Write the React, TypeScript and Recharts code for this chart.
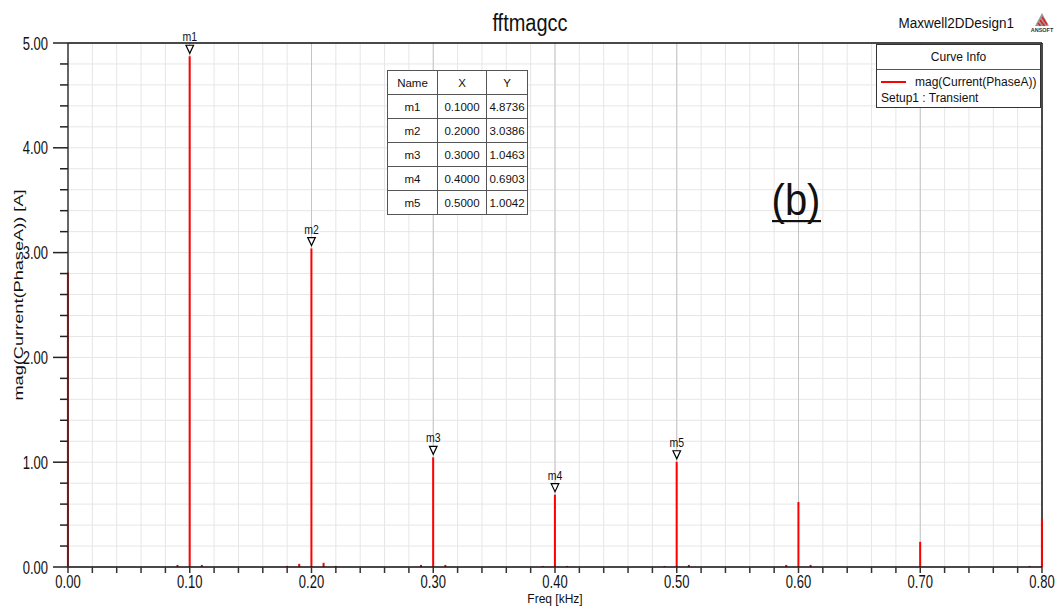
import { Bar, CartesianGrid, ComposedChart, Scatter, XAxis, YAxis } from "recharts";

// FFT bins, 0.01 kHz apart, magnitudes in A
const FREQ_STEP = 0.01;
const magnitudes = [
  2.81, 0, 0, 0, 0, 0, 0, 0, 0, 0.02,
  4.8736, 0.02, 0, 0, 0, 0, 0, 0, 0.01, 0.03,
  3.0386, 0.04, 0.01, 0, 0, 0, 0, 0, 0, 0.02,
  1.0463, 0.02, 0, 0, 0, 0, 0, 0, 0, 0.01,
  0.6903, 0.01, 0, 0, 0, 0, 0, 0, 0, 0.01,
  1.0042, 0.02, 0, 0, 0, 0, 0, 0, 0, 0.02,
  0.62, 0.02, 0, 0, 0, 0, 0, 0, 0, 0,
  0.24, 0, 0, 0, 0, 0, 0, 0, 0, 0.01,
  0.46,
];

const markerNames = ["m1", "m2", "m3", "m4", "m5"];
const markerX = [0.1, 0.2, 0.3, 0.4, 0.5];
const markerY = [4.8736, 3.0386, 1.0463, 0.6903, 1.0042];

const xTicks = Array.from({ length: 41 }, (_, i) => Math.round(i * 2) / 100);
const yTicks = Array.from({ length: 26 }, (_, i) => Math.round(i * 2) / 10);
const majorX = [0.1, 0.2, 0.3, 0.4, 0.5, 0.6, 0.7];

const data = magnitudes.map((v, i) => ({ f: Math.round(i * FREQ_STEP * 100) / 100, v }));
const markers = markerNames.map((name, i) => ({ name, f: markerX[i], v: markerY[i] }));

const FONT = "'Liberation Sans', Arial, sans-serif";
const RED = "#ff0000";

function XTick({ x, y, payload }: any) {
  const val = payload.value as number;
  const major = Math.abs(val * 10 - Math.round(val * 10)) < 1e-6;
  return (
    <g>
      <line x1={x} x2={x} y1={y} y2={y + 6} stroke="#333" strokeWidth={1.5} />
      {major && (
        <text
          transform={`translate(${x},${y + 21}) scale(1,1.35)`}
          textAnchor="middle"
          fontSize={13}
          fill="#111"
          fontFamily={FONT}
        >
          {val.toFixed(2)}
        </text>
      )}
    </g>
  );
}

function YTick({ x, y, payload }: any) {
  const val = payload.value as number;
  const major = Math.abs(val - Math.round(val)) < 1e-6;
  return (
    <g>
      <line x1={x - (major ? 15 : 8)} x2={x} y1={y} y2={y} stroke="#222" strokeWidth={1.5} />
      {major && (
        <text
          transform={`translate(${x - 20},${y + 6.5}) scale(1,1.35)`}
          textAnchor="end"
          fontSize={13}
          fill="#111"
          fontFamily={FONT}
        >
          {val.toFixed(2)}
        </text>
      )}
    </g>
  );
}

function MarkerShape({ cx, cy, payload }: any) {
  return (
    <g>
      <path
        d={`M${cx - 3.8},${cy - 11} L${cx + 3.8},${cy - 11} L${cx},${cy - 3} Z`}
        fill="#fff"
        stroke="#000"
        strokeWidth={1.2}
      />
      <text
        transform={`translate(${cx},${cy - 15}) scale(1,1.3)`}
        textAnchor="middle"
        fontSize={10.5}
        fill="#111"
        fontFamily={FONT}
      >
        {payload.name}
      </text>
    </g>
  );
}

const cell: React.CSSProperties = {
  border: "1px solid #555",
  padding: 0,
  height: 23,
  textAlign: "center",
  fontSize: 11.5,
};

export default function App() {
  return (
    <div
      style={{
        position: "absolute",
        left: 0,
        top: 0,
        width: 1055,
        height: 608,
        background: "#fff",
        fontFamily: FONT,
        color: "#111",
      }}
    >
      <ComposedChart width={1055} height={608} data={data} margin={{ top: 43, right: 13, bottom: 0, left: 0 }}>
        <CartesianGrid stroke="#e6e6e6" strokeWidth={1} />
        <CartesianGrid horizontal={false} verticalValues={majorX} stroke="#c4c4c4" strokeWidth={1} />
        <CartesianGrid horizontal={false} verticalValues={[0.8]} stroke="#111" strokeWidth={1.5} />
        <CartesianGrid vertical={false} horizontalValues={[5]} stroke="#111" strokeWidth={1.5} />
        <XAxis
          dataKey="f"
          type="number"
          domain={[0, 0.8]}
          ticks={xTicks}
          interval={0}
          height={41}
          tickSize={0}
          tickMargin={0}
          tick={<XTick />}
          tickLine={false}
          axisLine={{ stroke: "#111", strokeWidth: 1.5 }}
        />
        <YAxis
          type="number"
          domain={[0, 5]}
          ticks={yTicks}
          interval={0}
          width={68}
          tickSize={0}
          tickMargin={0}
          tick={<YTick />}
          tickLine={false}
          axisLine={{ stroke: "#2a2a2a", strokeOpacity: 0.7, strokeWidth: 2 }}
        />
        <Bar dataKey="v" fill={RED} barSize={2} isAnimationActive={false} />
        <Scatter data={markers} dataKey="v" shape={<MarkerShape />} isAnimationActive={false} />
      </ComposedChart>

      <svg
        style={{ position: "absolute", left: 0, top: 0, pointerEvents: "none" }}
        width={1055}
        height={608}
        fontFamily={FONT}
        fill="#111"
      >
        <text transform="translate(530,31) scale(1,1.15)" textAnchor="middle" fontSize={20}>
          fftmagcc
        </text>
        <text transform="translate(1014,28) scale(1,1.1)" textAnchor="end" fontSize={13.5}>
          Maxwell2DDesign1
        </text>
        <text transform="translate(23,295) rotate(-90) scale(1.4,1)" textAnchor="middle" fontSize={13}>
          mag(Current(PhaseA)) [A]
        </text>
        <text transform="translate(555,603) scale(1,1.1)" textAnchor="middle" fontSize={12}>
          Freq [kHz]
        </text>
        <text transform="translate(796,215) scale(1,1.12)" textAnchor="middle" fontSize={40}>
          (b)
        </text>
        <rect x={772} y={220} width={49} height={2.2} fill="#111" />
        <g transform="translate(1032,12)">
          <path d="M10,1 L17,14 L3,14 Z" fill="#9a9a9a" />
          <path d="M8,8 L12.5,14 M10,5 L15,12.5 M6,11 L8.5,14" stroke="#e02020" strokeWidth={1.4} />
          <text x={10} y={20} textAnchor="middle" fontSize={5.5} fontWeight="bold" fill="#333">
            ANSOFT
          </text>
        </g>
      </svg>

      <table
        style={{
          position: "absolute",
          left: 387,
          top: 70,
          borderCollapse: "collapse",
          background: "#fff",
          border: "1.5px solid #333",
          fontFamily: FONT,
        }}
      >
        <tbody>
          <tr>
            <td style={{ ...cell, width: 49 }}>Name</td>
            <td style={{ ...cell, width: 48 }}>X</td>
            <td style={{ ...cell, width: 40 }}>Y</td>
          </tr>
          {markers.map((m) => (
            <tr key={m.name}>
              <td style={cell}>{m.name}</td>
              <td style={cell}>{m.f.toFixed(4)}</td>
              <td style={cell}>{m.v.toFixed(4)}</td>
            </tr>
          ))}
        </tbody>
      </table>

      <div
        style={{
          position: "absolute",
          left: 876,
          top: 44,
          width: 163,
          height: 62,
          border: "1.5px solid #333",
          background: "#fff",
          fontSize: 12,
        }}
      >
        <div style={{ height: 24, lineHeight: "24px", textAlign: "center", borderBottom: "1px solid #555" }}>
          Curve Info
        </div>
        <div style={{ display: "flex", alignItems: "center", height: 18, marginTop: 3, paddingLeft: 4 }}>
          <span style={{ display: "inline-block", width: 25, height: 2, background: RED, marginRight: 9 }} />
          <span>mag(Current(PhaseA))</span>
        </div>
        <div style={{ paddingLeft: 4, lineHeight: "14px" }}>Setup1 : Transient</div>
      </div>
    </div>
  );
}
